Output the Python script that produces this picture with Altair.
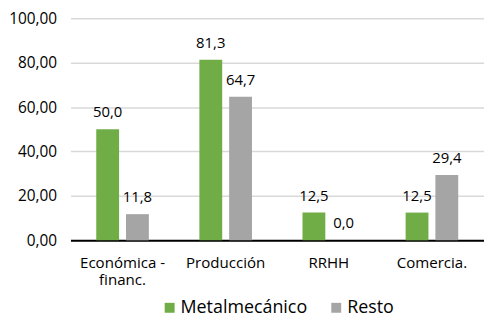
import altair as alt
import pandas as pd

categories = ["Económica -|financ.", "Producción", "RRHH", "Comercia."]
series = ["Metalmecánico", "Resto"]
metal = [50.0, 81.3, 12.5, 12.5]
resto = [11.8, 64.7, 0.0, 29.4]
colors = ["#70AD47", "#A5A5A5"]

rows = []
for c, m, r in zip(categories, metal, resto):
    rows.append({"cat": c, "serie": series[0], "val": m})
    rows.append({"cat": c, "serie": series[1], "val": r})
df = pd.DataFrame(rows)
df["lab"] = df["val"].map(lambda v: f"{v:.1f}".replace(".", ","))

FONT = "Open Sans"

x = alt.X("cat:N", sort=categories, title=None,
          scale=alt.Scale(paddingInner=0.49, paddingOuter=0.25),
          axis=alt.Axis(labelExpr="split(datum.label, '|')", labelAngle=0,
                        labelFontSize=15.2, labelColor="#000000", labelFont=FONT,
                        domainColor="#000000", domainWidth=2, ticks=False,
                        labelPadding=15, labelLineHeight=18))
xo = alt.XOffset("serie:N", sort=series,
                 scale=alt.Scale(paddingInner=0.233, paddingOuter=0))
y = alt.Y("val:Q", title=None,
          scale=alt.Scale(domain=[0, 100]),
          axis=alt.Axis(values=[0, 20, 40, 60, 80, 100],
                        labelExpr="replace(format(datum.value, '.2f'), '.', ',')",
                        labelFontSize=15.5, labelColor="#000000", labelFont=FONT,
                        domain=False, ticks=False, gridColor="#D9D9D9",
                        gridWidth=1.5, labelPadding=14))
color = alt.Color("serie:N", sort=series,
                  scale=alt.Scale(domain=series, range=colors),
                  legend=alt.Legend(title=None, orient="none", direction="horizontal",
                                    legendX=91, legendY=283, padding=0,
                                    symbolType="square", symbolSize=100,
                                    symbolStrokeWidth=0, labelOffset=2,
                                    labelFontSize=18, labelFont=FONT,
                                    labelColor="#000000", columnPadding=20))

bars = alt.Chart(df).mark_bar().encode(x=x, xOffset=xo, y=y, color=color)
text = alt.Chart(df).mark_text(baseline="bottom", dy=-9, fontSize=15,
                               font=FONT, color="#000000").encode(
    x=x, xOffset=xo, y=y, text="lab:N")

chart = (bars + text).properties(
    width=417, height=224,
    autosize=alt.AutoSizeParams(type="none"),
    padding={"left": 63, "top": 9, "right": 0, "bottom": 78},
).configure_view(stroke=None)
chart.save("out.html", embed_options={"renderer": "svg", "actions": False})
